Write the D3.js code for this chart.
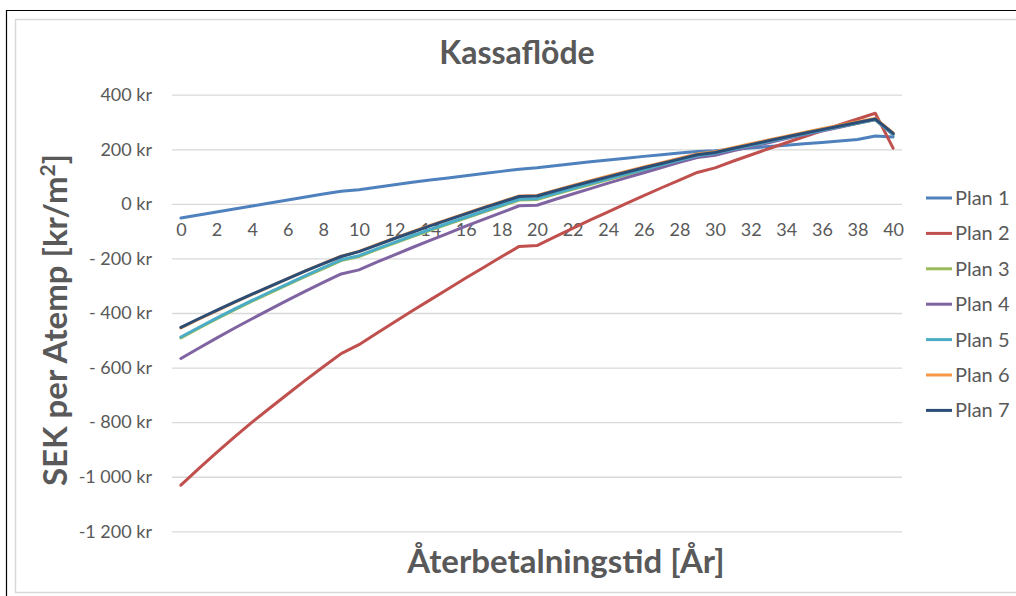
<!DOCTYPE html>
<html>
<head>
<meta charset="utf-8">
<script src="https://cdn.jsdelivr.net/npm/d3@7"></script>
<style>
  body { margin: 0; background: #fff; }
  svg { display: block; font-family: Lato, Carlito, Calibri, sans-serif; }
</style>
</head>
<body>
<div id="chart"></div>
<script>
// data
const years = [0, 1, 2, 3, 4, 5, 6, 7, 8, 9, 10, 11, 12, 13, 14, 15, 16, 17, 18, 19, 20,
    21, 22, 23, 24, 25, 26, 27, 28, 29, 30, 31, 32, 33, 34, 35, 36, 37, 38, 39, 40];
const xTicks = [0, 2, 4, 6, 8, 10, 12, 14, 16, 18, 20, 22, 24, 26, 28, 30, 32, 34, 36, 38, 40];
const yTicks = [400, 200, 0, -200, -400, -600, -800, -1000, -1200];
const yTickLabels = ['400 kr', '200 kr', '0 kr', '- 200 kr', '- 400 kr', '- 600 kr', '- 800 kr', '-1 000 kr', '-1 200 kr'];
const seriesNames = ['Plan 1', 'Plan 2', 'Plan 3', 'Plan 4', 'Plan 5', 'Plan 6', 'Plan 7'];

const plan1 = [-52, -41, -30, -19, -8, 3, 14, 25, 36, 46, 52, 61, 70, 79, 87, 95, 103, 111, 119, 127, 132,
    140, 147, 154, 161, 167, 174, 180, 186, 192, 195, 200, 205, 210, 215, 220, 225, 230, 236, 249, 245];
const plan2 = [-1031, -970, -912, -855, -800, -748, -697, -646, -597, -549, -516, -474, -433, -392, -352, -312, -272, -233, -194, -156, -153,
    -121, -90, -59, -29, 1, 30, 59, 87, 115, 132, 156, 179, 202, 224, 246, 268, 290, 311, 332, 204];
const plan3 = [-491, -456, -422, -389, -357, -326, -296, -266, -237, -208, -193, -168, -144, -120, -97, -74, -52, -30, -8, 14, 16,
    35, 53, 71, 89, 106, 124, 141, 158, 174, 183, 198, 213, 227, 241, 255, 269, 282, 295, 308, 254];
const plan4 = [-567, -529, -492, -456, -421, -387, -353, -320, -288, -257, -242, -214, -187, -160, -134, -108, -82, -57, -32, -7, -5,
    16, 36, 56, 76, 95, 114, 133, 152, 170, 178, 194, 209, 224, 239, 253, 267, 281, 295, 309, 254];
const plan5 = [-488, -453, -419, -386, -354, -323, -293, -263, -234, -205, -190, -165, -141, -117, -94, -71, -49, -27, -5, 17, 19,
    38, 56, 74, 92, 109, 126, 143, 160, 176, 185, 200, 214, 228, 242, 256, 270, 283, 296, 309, 255];
const plan6 = [-455, -423, -392, -361, -332, -303, -274, -246, -218, -192, -174, -150, -126, -102, -79, -57, -35, -13, 8, 29, 31,
    49, 67, 85, 102, 119, 135, 151, 167, 183, 191, 206, 220, 234, 248, 262, 275, 288, 301, 313, 260];
const plan7 = [-453, -421, -390, -360, -331, -302, -274, -246, -219, -193, -175, -151, -127, -104, -81, -59, -37, -15, 6, 27, 29,
    47, 65, 82, 99, 116, 132, 148, 164, 180, 188, 203, 217, 231, 245, 259, 272, 285, 298, 311, 258];

const allSeries = [plan1, plan2, plan3, plan4, plan5, plan6, plan7];
const colors = ['#4F81BD', '#C0504D', '#9BBB59', '#8064A2', '#4BACC6', '#F79646', '#2C4D75'];

const width = 1016;
const height = 596;
const grey = '#595959';

const svg = d3.select('#chart').append('svg')
    .attr('width', width)
    .attr('height', height);

// frame (outer black, inner light grey chart area)
svg.append('path')
    .attr('d', `M6.5,${height} V10.5 H${width}`)
    .attr('fill', 'none')
    .attr('stroke', '#000')
    .attr('stroke-width', 1.2);
svg.append('path')
    .attr('d', `M${width},592.5 H15.5 V19.5 H${width}`)
    .attr('fill', 'none')
    .attr('stroke', '#d9d9d9')
    .attr('stroke-width', 1.5);

// scales
const xScale = d3.scalePoint()
    .domain(years)
    .range([172, 902])
    .padding(0.5);

const yScale = d3.scaleLinear()
    .domain([-1200, 400])
    .range([531.3, 94.7]);

// gridlines + y labels
const yAxis_func = d3.axisLeft(yScale)
    .tickValues(yTicks)
    .tickSize(-(902 - 172))
    .tickFormat((d, i) => yTickLabels[i])
    .tickPadding(20);

const yAxis_g = svg.append('g')
    .attr('transform', 'translate(172, 0)')
    .call(yAxis_func);
yAxis_g.select('.domain').remove();
yAxis_g.selectAll('line')
    .attr('stroke', '#d9d9d9')
    .attr('stroke-width', 1.3);
yAxis_g.selectAll('text')
    .attr('fill', grey)
    .style('font-size', '18px')
    .style('font-family', 'Lato, Carlito, Calibri, sans-serif');

// x axis labels sit under the zero line
const xAxis_func = d3.axisBottom(xScale)
    .tickValues(xTicks)
    .tickSize(0)
    .tickPadding(19);

const xAxis_g = svg.append('g')
    .attr('transform', `translate(0, ${yScale(0)})`)
    .call(xAxis_func);
xAxis_g.select('.domain').remove();
xAxis_g.selectAll('text')
    .attr('fill', grey)
    .style('font-size', '18px')
    .style('font-family', 'Lato, Carlito, Calibri, sans-serif');

// lines
const line = d3.line()
    .x((d, i) => xScale(years[i]))
    .y(d => yScale(d));

svg.append('g')
    .selectAll('path')
    .data(allSeries)
    .enter()
    .append('path')
    .attr('d', d => line(d))
    .attr('fill', 'none')
    .attr('stroke', (d, i) => colors[i])
    .attr('stroke-width', 3)
    .attr('stroke-linejoin', 'round')
    .attr('stroke-linecap', 'round');

// title
svg.append('text')
    .attr('x', 517)
    .attr('y', 64)
    .attr('text-anchor', 'middle')
    .attr('fill', grey)
    .style('font-size', '32px')
    .style('font-weight', 'bold')
    .text('Kassaflöde');

// axis titles
svg.append('text')
    .attr('x', 566)
    .attr('y', 573)
    .attr('text-anchor', 'middle')
    .attr('fill', grey)
    .style('font-size', '33px')
    .style('font-weight', 'bold')
    .text('Återbetalningstid [År]');

const yTitle = svg.append('text')
    .attr('transform', 'translate(67, 320) rotate(-90)')
    .attr('text-anchor', 'middle')
    .attr('fill', grey)
    .style('font-size', '33px')
    .style('font-weight', 'bold');
yTitle.append('tspan').text('SEK per Atemp [kr/m');
yTitle.append('tspan').attr('dy', -12).style('font-size', '21px').text('2');
yTitle.append('tspan').attr('dy', 12).text(']');

// legend
const legend = svg.append('g')
    .selectAll('g')
    .data(seriesNames)
    .enter()
    .append('g')
    .attr('transform', (d, i) => `translate(926, ${198 + i * 35.4})`);

legend.append('line')
    .attr('x1', 0)
    .attr('x2', 26)
    .attr('stroke', (d, i) => colors[i])
    .attr('stroke-width', 3);

legend.append('text')
    .attr('x', 29)
    .attr('dy', '0.35em')
    .attr('fill', grey)
    .style('font-size', '20px')
    .text(d => d);
</script>
</body>
</html>
